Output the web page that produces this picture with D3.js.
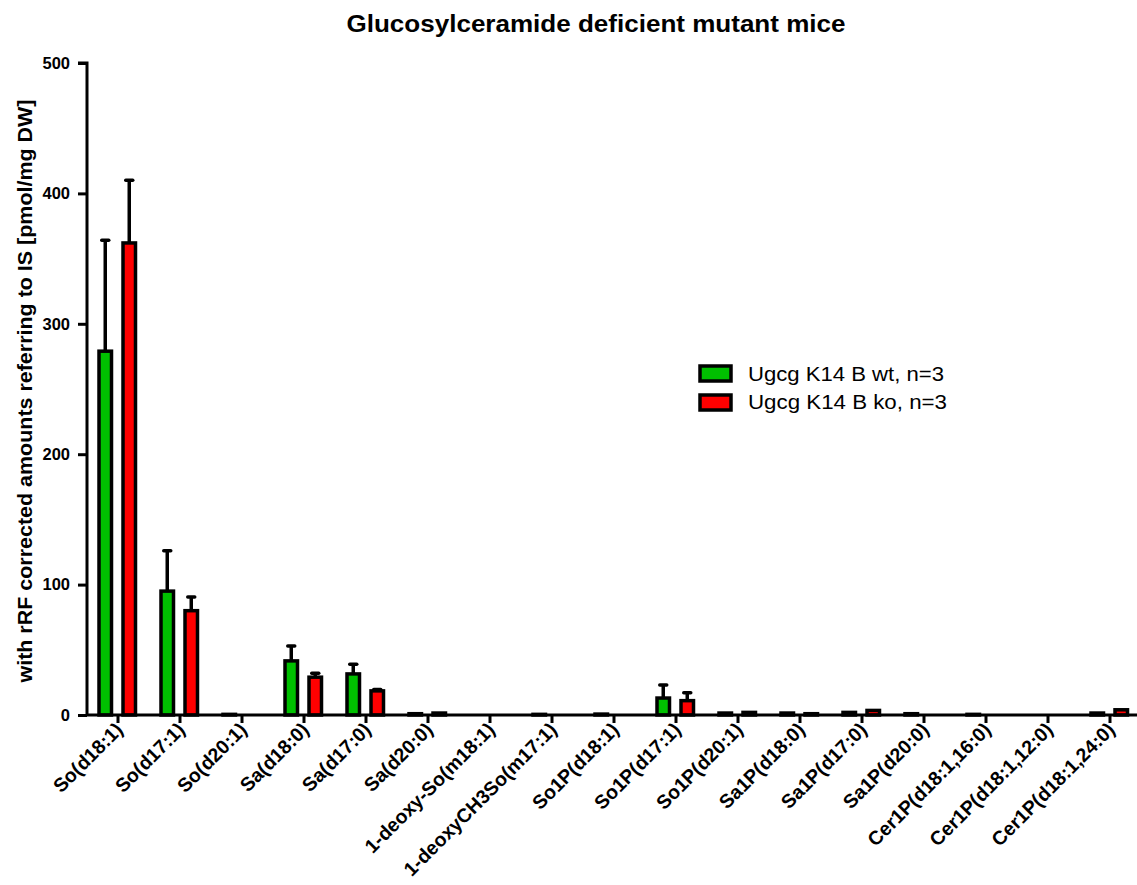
<!DOCTYPE html>
<html><head><meta charset="utf-8">
<script src="https://cdn.jsdelivr.net/npm/d3@7"></script>
<style>
body{margin:0;background:#fff;}
text{font-family:"Liberation Sans",Arial,sans-serif;}
</style></head>
<body>
<svg id="chart" width="1137" height="885"></svg>
<script>
const categories = ["So(d18:1)","So(d17:1)","So(d20:1)","Sa(d18:0)","Sa(d17:0)","Sa(d20:0)",
  "1-deoxy-So(m18:1)","1-deoxyCH3So(m17:1)","So1P(d18:1)","So1P(d17:1)","So1P(d20:1)",
  "Sa1P(d18:0)","Sa1P(d17:0)","Sa1P(d20:0)","Cer1P(d18:1,16:0)","Cer1P(d18:1,12:0)","Cer1P(d18:1,24:0)"];
const seriesNames = ["Ugcg K14 B wt, n=3","Ugcg K14 B ko, n=3"];
const seriesColors = ["#00c000","#ff0000"];
const wtMean = [279, 95, 0.5, 41.5, 31.5, 1, 0, 0.5, 0.7, 13, 1.5, 1.5, 2, 1, 0.5, 0, 1.5];
const wtSEM  = [85, 31, 0, 11.5, 7.5, 0, 0, 0, 0, 10, 0, 0, 0, 0, 0, 0, 0];
const koMean = [362, 80, 0, 29, 18.5, 1.5, 0, 0, 0, 11, 2, 1, 3.5, 0, 0, 0, 4];
const koSEM  = [48, 10.5, 0, 3, 1, 0, 0, 0, 0, 6, 0, 0, 0, 0, 0, 0, 0];
const yTicks = [0, 100, 200, 300, 400, 500];

const svg = d3.select("#chart");
const x0 = 87, yTop = 63, yBot = 715;
const FONT = "Liberation Sans, Arial, sans-serif";

const x = d3.scaleBand().domain(categories).range([x0, x0 + 62 * categories.length]);
const y = d3.scaleLinear().domain([0, 500]).range([yBot, yTop]);

const series = [
  {name: seriesNames[0], color: seriesColors[0], mean: wtMean, sem: wtSEM, off: -19},
  {name: seriesNames[1], color: seriesColors[1], mean: koMean, sem: koSEM, off: 5}
];
const barW = 12.5;

// bars with upward error bars
series.forEach(s => {
  const g = svg.append("g");
  categories.forEach((c, i) => {
    const cx = x(c) + x.bandwidth() / 2;
    const bx = cx + s.off;
    const v = s.mean[i], e = s.sem[i];
    if (e > 0) {
      g.append("line").attr("x1", bx + barW / 2).attr("x2", bx + barW / 2)
        .attr("y1", y(v)).attr("y2", y(v + e)).attr("stroke", "#000").attr("stroke-width", 3.5);
      g.append("line").attr("x1", bx + barW / 2 - 3.5).attr("x2", bx + barW / 2 + 3.5)
        .attr("y1", y(v + e)).attr("y2", y(v + e)).attr("stroke", "#000").attr("stroke-width", 3.5)
        .attr("stroke-linecap", "round");
    }
    g.append("rect").attr("x", bx).attr("width", barW)
      .attr("y", y(v)).attr("height", y(0) - y(v))
      .attr("fill", s.color).attr("stroke", "#000").attr("stroke-width", 3.5);
  });
});

// y axis
const yAxis = d3.axisLeft(y).tickValues(yTicks).tickSize(9).tickFormat(d3.format("d"));
const ya = svg.append("g").attr("transform", `translate(${x0},0)`).call(yAxis);
ya.select(".domain").attr("stroke-width", 3).attr("d", `M-9,${yTop}H0V${yBot}`);
ya.selectAll(".tick line").attr("stroke-width", 3);
ya.selectAll(".tick text").attr("font-size", 16.5).attr("font-weight", "bold").attr("fill", "#000")
  .attr("x", -17).style("font-family", FONT);

// x axis
const xAxis = d3.axisBottom(x).tickSize(8).tickSizeOuter(0);
const xa = svg.append("g").attr("transform", `translate(0,${yBot})`).call(xAxis);
xa.select(".domain").attr("stroke-width", 3).attr("d", `M${x0},0H1137`);
xa.selectAll(".tick line").attr("stroke-width", 3);
xa.selectAll(".tick text").attr("font-size", 19.5).attr("font-weight", "bold").attr("fill", "#000")
  .style("font-family", FONT)
  .attr("text-anchor", "end").attr("dy", null).attr("y", 0).attr("x", 0)
  .attr("transform", "translate(6,16) rotate(-45)");

// title
svg.append("text").attr("x", 596).attr("y", 32).attr("text-anchor", "middle")
  .attr("font-size", 23).attr("font-weight", "bold")
  .attr("textLength", 499).attr("lengthAdjust", "spacingAndGlyphs")
  .text("Glucosylceramide deficient mutant mice");

// y axis label
svg.append("text").attr("transform", "translate(32,391) rotate(-90)").attr("text-anchor", "middle")
  .attr("font-size", 21).attr("font-weight", "bold")
  .attr("textLength", 583).attr("lengthAdjust", "spacingAndGlyphs")
  .text("with rRF corrected amounts referring to IS [pmol/mg DW]");

// legend
const lg = svg.append("g").attr("transform", "translate(700,366)");
series.forEach((s, i) => {
  lg.append("rect").attr("x", 0).attr("y", i * 29).attr("width", 31).attr("height", 15)
    .attr("fill", s.color).attr("stroke", "#000").attr("stroke-width", 3.5);
  lg.append("text").attr("x", 48).attr("y", i * 28 + 15).attr("font-size", 20)
    .attr("textLength", 196 + i * 3).attr("lengthAdjust", "spacingAndGlyphs").text(s.name);
});
</script>
</body></html>
